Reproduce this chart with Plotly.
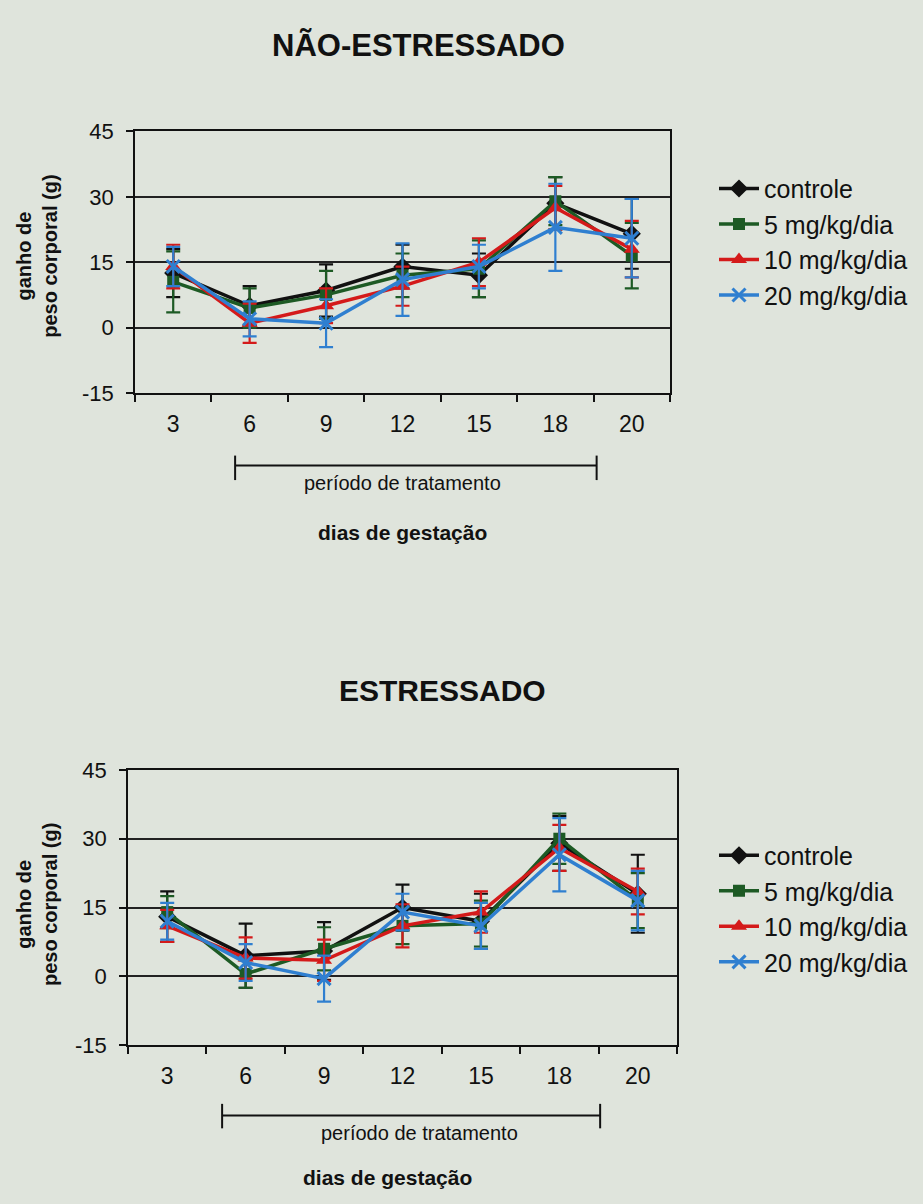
import plotly.graph_objects as go

# ---------------- data ----------------
days = ["3", "6", "9", "12", "15", "18", "20"]
series_names = ["controle", "5 mg/kg/dia", "10 mg/kg/dia", "20 mg/kg/dia"]

# NÃO-ESTRESSADO
ns_controle = [12.5, 5.0, 8.5, 14.0, 12.0, 28.5, 21.5]
ns_controle_err = [5.5, 4.5, 6.0, 5.0, 5.0, 6.0, 8.0]
ns_5mg = [10.5, 4.5, 7.5, 12.0, 13.5, 29.0, 16.5]
ns_5mg_err = [7.0, 4.5, 5.5, 5.0, 6.5, 5.5, 7.5]
ns_10mg = [14.0, 1.0, 5.0, 9.5, 15.0, 27.5, 18.0]
ns_10mg_err = [5.0, 4.5, 4.0, 4.5, 5.5, 5.0, 6.5]
ns_20mg = [14.0, 2.0, 1.0, 11.0, 14.0, 23.0, 20.5]
ns_20mg_err = [4.5, 4.0, 5.5, 8.3, 5.0, 10.0, 9.0]

# ESTRESSADO
es_controle = [13.0, 4.5, 5.5, 15.0, 12.0, 29.0, 18.0]
es_controle_err = [5.5, 7.0, 6.3, 5.0, 6.0, 6.0, 8.5]
es_5mg = [14.0, 0.5, 6.0, 11.0, 11.5, 30.0, 16.5]
es_5mg_err = [3.5, 3.0, 4.7, 4.0, 5.0, 5.5, 6.0]
es_10mg = [11.0, 4.0, 3.5, 11.0, 14.0, 28.0, 18.5]
es_10mg_err = [3.5, 4.5, 4.5, 4.7, 4.5, 5.0, 5.0]
es_20mg = [12.0, 3.0, -0.5, 14.0, 11.0, 26.5, 16.5]
es_20mg_err = [4.0, 4.0, 5.0, 4.0, 5.0, 8.0, 6.5]

y_ticks = [-15, 0, 15, 30, 45]
y_tick_labels = ["-15", "0", "15", "30", "45"]

# ---------------- style ----------------
W, H = 923, 1204
FONT = "Liberation Sans, Arial, sans-serif"
BG = "#dfe4dc"
colors = ["#111111", "#1d5a24", "#d41a1a", "#2f7fd0"]
symbols = ["diamond", "square", "triangle-up", "x-thin"]
msizes = [14, 12, 14, 13]


def px(x):
    return x / W


def py(y):
    return 1 - y / H


fig = go.Figure()

panels = [
    ("x", "y", "legend", [(ns_controle, ns_controle_err), (ns_5mg, ns_5mg_err),
                          (ns_10mg, ns_10mg_err), (ns_20mg, ns_20mg_err)]),
    ("x2", "y2", "legend2", [(es_controle, es_controle_err), (es_5mg, es_5mg_err),
                             (es_10mg, es_10mg_err), (es_20mg, es_20mg_err)]),
]

for xa, ya, lg, data in panels:
    for i, (vals, errs) in enumerate(data):
        marker = dict(symbol=symbols[i], size=msizes[i], color=colors[i],
                      line=dict(color=colors[i], width=3 if symbols[i] == "x-thin" else 0))
        fig.add_trace(go.Scatter(
            x=days, y=vals, name=series_names[i], mode="lines+markers",
            xaxis=xa, yaxis=ya, legend=lg, legendgroup=lg + str(i),
            line=dict(color=colors[i], width=3.5),
            marker=marker,
            error_y=dict(type="data", array=errs, visible=True,
                         color=colors[i], thickness=2.2, width=7),
        ))

axis_common_x = dict(type="category", range=[-0.5, 6.5], tickson="boundaries",
                     ticks="outside", ticklen=7, tickwidth=1.5, tickcolor="#111",
                     showline=True, linecolor="#111", linewidth=1.5, mirror=True,
                     showgrid=False, zeroline=False,
                     tickfont=dict(family=FONT, size=23, color="#111"),
                     ticklabelstandoff=10)
axis_common_y = dict(range=[-15, 45], tickvals=y_ticks, ticktext=y_tick_labels,
                     ticks="outside", ticklen=7, tickwidth=1.5, tickcolor="#111",
                     showline=True, linecolor="#111", linewidth=1.5, mirror=True,
                     showgrid=True, gridcolor="#222", gridwidth=1.5, zeroline=False,
                     tickfont=dict(family=FONT, size=22, color="#111"),
                     ticklabelstandoff=8)

fig.update_layout(
    width=W, height=H,
    margin=dict(l=0, r=0, t=0, b=0),
    paper_bgcolor=BG, plot_bgcolor=BG,
    showlegend=True,
    xaxis=dict(domain=[px(135), px(670)], anchor="y", **axis_common_x),
    yaxis=dict(domain=[py(389), py(122)], anchor="x", **axis_common_y),
    xaxis2=dict(domain=[px(128), px(677)], anchor="y2", **axis_common_x),
    yaxis2=dict(domain=[py(1055), py(774)], anchor="x2", **axis_common_y),
    legend=dict(x=px(714), y=py(157), xanchor="left", yanchor="top",
                bgcolor="rgba(0,0,0,0)", font=dict(family=FONT, size=25, color="#111"),
                tracegroupgap=8, traceorder="normal", itemwidth=40),
    legend2=dict(x=px(714), y=py(838), xanchor="left", yanchor="top",
                 bgcolor="rgba(0,0,0,0)", font=dict(family=FONT, size=25, color="#111"),
                 tracegroupgap=6, traceorder="normal", itemwidth=40),
)

annotations = []
shapes = []


def note(text, x, y, size, angle=0):
    return dict(text=text, x=px(x), y=py(y), xref="paper", yref="paper",
                xanchor="center", yanchor="middle", textangle=angle, showarrow=False,
                font=dict(family=FONT, size=size, color="#111"))


# titles
annotations.append(note("<b>NÃO-ESTRESSADO</b>", 418, 34, 31))
annotations.append(note("<b>ESTRESSADO</b>", 442, 693, 30))

# y titles
for yc in (250, 912):
    annotations.append(note("<b>ganho de<br>peso corporal (g)</b>", 37, yc, 20, -90))

# treatment brackets and x titles
brackets = [
    ("x", 0.81, 5.54, 463, 453, 478, 402, 481, 402, 532),
    ("x2", 0.70, 5.52, 1127, 1115, 1140, 419, 1145, 387, 1190),
]
for xr, x0, x1, yl, yt, yb, tx, ty, gx, gy in brackets:
    shapes.append(dict(type="line", xref=xr, yref="paper", x0=x0, x1=x1, y0=py(yl), y1=py(yl),
                       line=dict(color="#111", width=2)))
    for xe in (x0, x1):
        shapes.append(dict(type="line", xref=xr, yref="paper", x0=xe, x1=xe, y0=py(yt), y1=py(yb),
                           line=dict(color="#111", width=2)))
    annotations.append(note("período de tratamento", tx, ty, 20))
    annotations.append(note("<b>dias de gestação</b>", gx, gy, 21))

fig.update_layout(annotations=annotations, shapes=shapes)

fig.write_html("out.html", config={"displayModeBar": False},
               post_script="document.body.style.margin='0';document.body.style.overflow='hidden';")
